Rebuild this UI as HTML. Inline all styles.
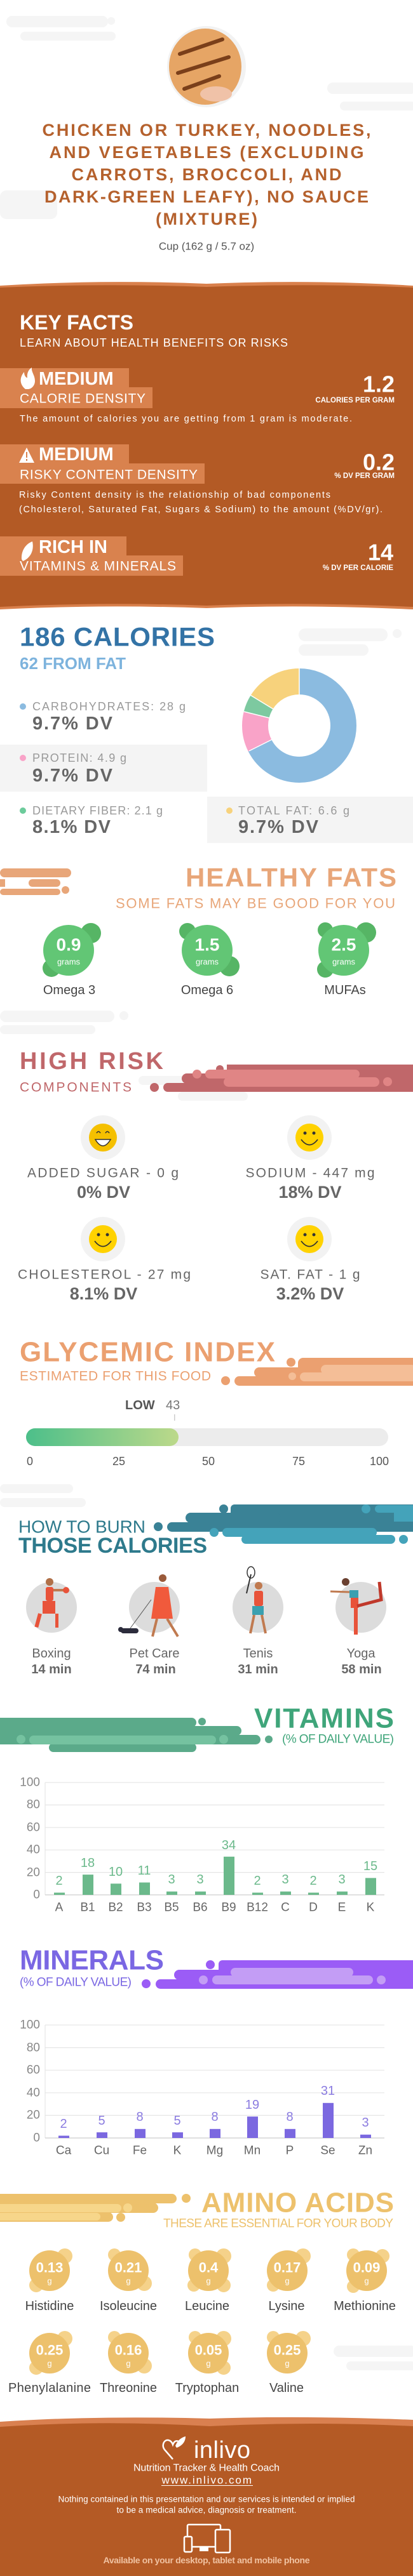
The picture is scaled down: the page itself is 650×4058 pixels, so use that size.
<!DOCTYPE html>
<html><head><meta charset="utf-8"><style>
html,body{margin:0;padding:0;background:#fff}
svg{display:block}
text{font-family:"Liberation Sans",sans-serif}
</style></head><body>
<svg width="650" height="4058" viewBox="0 0 650 4058" xmlns="http://www.w3.org/2000/svg">
<rect width="650" height="4058" fill="#fff"/>
<!-- light decor -->
<g fill="#f5f5f5">
<rect x="10" y="25" width="160" height="18" rx="9"/><rect x="32" y="50" width="150" height="14" rx="7"/><circle cx="175" cy="33" r="6"/>
<rect x="515" y="130" width="140" height="18" rx="9"/><rect x="535" y="160" width="120" height="14" rx="7"/>
<rect x="0" y="300" width="90" height="45" rx="10"/>
<rect x="470" y="990" width="140" height="20" rx="10"/><rect x="470" y="1015" width="110" height="18" rx="9"/><circle cx="625" cy="998" r="7"/>
<rect x="0" y="1592" width="180" height="18" rx="9"/><rect x="0" y="1615" width="150" height="14" rx="7"/><circle cx="195" cy="1600" r="7"/>
<rect x="218" y="1695" width="150" height="14" rx="7"/><rect x="280" y="1720" width="110" height="14" rx="7"/>
<rect x="0" y="2338" width="115" height="14" rx="7"/><rect x="0" y="2360" width="135" height="14" rx="7"/>
<rect x="525" y="3695" width="130" height="18" rx="9"/><rect x="545" y="3720" width="110" height="14" rx="7"/>
</g>

<!-- food image -->
<ellipse cx="325" cy="105" rx="62" ry="64" fill="#f2f2f2"/>
<ellipse cx="323" cy="105" rx="57" ry="60" fill="#e6a565"/>
<path d="M283 85 L350 62 M280 115 L360 90 M290 140 L345 120" stroke="#7a3f1a" stroke-width="6" stroke-linecap="round"/>
<ellipse cx="340" cy="148" rx="25" ry="12" fill="#f0c2a8"/>

<!-- title -->
<g fill="#B5612D" font-weight="bold" font-size="27" text-anchor="middle">
<text x="325" y="205" dominant-baseline="central" textLength="517">CHICKEN OR TURKEY, NOODLES,</text>
<text x="325" y="240" dominant-baseline="central" textLength="495">AND VEGETABLES (EXCLUDING</text>
<text x="325" y="275" dominant-baseline="central" textLength="425">CARROTS, BROCCOLI, AND</text>
<text x="325" y="310" dominant-baseline="central" textLength="510">DARK-GREEN LEAFY), NO SAUCE</text>
<text x="325" y="345" dominant-baseline="central" textLength="160">(MIXTURE)</text>
</g>
<text x="325" y="388" dominant-baseline="central" text-anchor="middle" font-size="17" fill="#555">Cup (162 g / 5.7 oz)</text>

<!-- key facts band -->
<path d="M0 450 Q160 440 325 447 Q490 440 650 450 L650 960 Q480 952 325 958 Q160 952 0 960 Z" fill="#D9804C"/>
<path d="M0 453 Q160 446 325 452 Q490 446 650 453 L650 956 Q480 948 325 954 Q160 948 0 956 Z" fill="#B35A25"/>
<text x="31" y="508" dominant-baseline="central" font-size="32" font-weight="bold" fill="#fff">KEY FACTS</text>
<text x="31" y="540" dominant-baseline="central" font-size="18" fill="#fff" textLength="422">LEARN ABOUT HEALTH BENEFITS OR RISKS</text>

<g fill="#D9824E">
<rect x="0" y="580" width="203" height="32"/><rect x="0" y="610" width="240" height="33"/>
<rect x="0" y="700" width="203" height="32"/><rect x="0" y="730" width="322" height="32"/>
<rect x="0" y="845" width="199" height="32"/><rect x="0" y="875" width="288" height="32"/>
</g>
<g fill="#fff">
<path d="M40 613 C30 605 31 594 38 586 C38 592 41 595 43 595 C42 588 45 582 50 579 C49 586 55 591 55 600 C55 608 49 613 44 613 Z"/>
<path d="M30 729 L42 705 L54 729 Z"/><rect x="41" y="712" width="2" height="9" fill="#D9824E"/><rect x="41" y="723" width="2" height="3" fill="#D9824E"/>
<path d="M34 881 C33 866 42 856 51 853 C54 867 48 879 36 884 Z"/>
</g>
<g fill="#fff" font-weight="bold">
<text x="61" y="597" dominant-baseline="central" font-size="29">MEDIUM</text>
<text x="61" y="716" dominant-baseline="central" font-size="29">MEDIUM</text>
<text x="61" y="862" dominant-baseline="central" font-size="29">RICH  IN</text>
</g>
<g fill="#fff" font-size="21">
<text x="31" y="628" dominant-baseline="central" textLength="198">CALORIE DENSITY</text>
<text x="31" y="748" dominant-baseline="central" textLength="280">RISKY CONTENT DENSITY</text>
<text x="31" y="892" dominant-baseline="central" textLength="246">VITAMINS &amp; MINERALS</text>
</g>
<g fill="#fff" font-weight="bold" text-anchor="end">
<text x="621" y="605" dominant-baseline="central" font-size="36">1.2</text>
<text x="621" y="631" dominant-baseline="central" font-size="11.5">CALORIES PER GRAM</text>
<text x="621" y="728" dominant-baseline="central" font-size="36">0.2</text>
<text x="621" y="750" dominant-baseline="central" font-size="11.5">% DV PER GRAM</text>
<text x="619" y="870" dominant-baseline="central" font-size="36">14</text>
<text x="619" y="895" dominant-baseline="central" font-size="11.5">% DV PER CALORIE</text>
</g>
<g fill="#fff" font-size="14.5">
<text x="31" y="660" dominant-baseline="central" textLength="523">The amount of calories you are getting from 1 gram is moderate.</text>
<text x="30" y="780" dominant-baseline="central" textLength="490">Risky Content density is the relationship of bad components</text>
<text x="30" y="803" dominant-baseline="central" textLength="572">(Cholesterol, Saturated Fat, Sugars &amp; Sodium) to the amount (%DV/gr).</text>
</g>

<!-- calories -->
<text x="31" y="1003" dominant-baseline="central" font-size="42" font-weight="bold" fill="#3373A6" textLength="307">186 CALORIES</text>
<text x="31" y="1045" dominant-baseline="central" font-size="26" font-weight="bold" fill="#7DB3DD" textLength="167">62 FROM FAT</text>
<rect x="0" y="1173" width="326" height="74" fill="#f4f4f4"/>
<rect x="326" y="1255" width="324" height="73" fill="#f4f4f4"/>
<g transform="rotate(-90 471 1143)" fill="none" stroke-width="41">
<circle cx="471" cy="1143" r="69.5" stroke="#8BBBE0" stroke-dasharray="294.8 436.7"/>
<circle cx="471" cy="1143" r="69.5" stroke="#F9A3C8" stroke-dasharray="49.7 436.7" stroke-dashoffset="-294.8"/>
<circle cx="471" cy="1143" r="69.5" stroke="#7DC9A0" stroke-dasharray="21.8 436.7" stroke-dashoffset="-344.5"/>
<circle cx="471" cy="1143" r="69.5" stroke="#F7D27C" stroke-dasharray="70.4 436.7" stroke-dashoffset="-366.3"/>
</g>
<g stroke="#fff" stroke-width="1.5">
<line x1="471" y1="1053" x2="471" y2="1094"/><line x1="392" y1="1183" x2="428" y2="1165"/><line x1="384" y1="1121" x2="424" y2="1131"/><line x1="394" y1="1095" x2="430" y2="1117"/>
</g>
<circle cx="36" cy="1113" r="5" fill="#8BBBE0"/><circle cx="36" cy="1194" r="5" fill="#F9A3C8"/><circle cx="36" cy="1277" r="5" fill="#6CCB9B"/><circle cx="361" cy="1277" r="5" fill="#F7D27C"/>
<g fill="#999" font-size="18">
<text x="51" y="1113" dominant-baseline="central" textLength="241">CARBOHYDRATES: 28 g</text>
<text x="51" y="1194" dominant-baseline="central" textLength="148">PROTEIN: 4.9 g</text>
<text x="51" y="1277" dominant-baseline="central" textLength="205">DIETARY FIBER: 2.1 g</text>
<text x="375" y="1277" dominant-baseline="central" textLength="175">TOTAL FAT: 6.6 g</text>
</g>
<g fill="#666" font-size="29" font-weight="bold">
<text x="51" y="1140" dominant-baseline="central" textLength="126">9.7% DV</text>
<text x="51" y="1222" dominant-baseline="central" textLength="126">9.7% DV</text>
<text x="51" y="1303" dominant-baseline="central" textLength="123">8.1% DV</text>
<text x="375" y="1303" dominant-baseline="central" textLength="126">9.7% DV</text>
</g>

<!-- healthy fats -->
<g fill="#E8A679">
<rect x="0" y="1368" width="112" height="14" rx="7"/><rect x="45" y="1385" width="50" height="12" rx="6"/><rect x="0" y="1385" width="8" height="12"/><circle cx="103" cy="1402" r="6"/><rect x="0" y="1400" width="95" height="10" rx="5"/>
</g>
<text x="624" y="1382" dominant-baseline="central" text-anchor="end" font-size="42" font-weight="bold" fill="#E8A679" textLength="332">HEALTHY FATS</text>
<text x="622" y="1423" dominant-baseline="central" text-anchor="end" font-size="22" fill="#E8A679" textLength="440">SOME FATS MAY BE GOOD FOR YOU</text>
<g fill="#56B565">
<circle cx="143" cy="1470" r="16"/><circle cx="81" cy="1525" r="14"/>
<circle cx="295" cy="1467" r="13"/><circle cx="361" cy="1522" r="16"/>
<circle cx="576" cy="1469" r="16"/><circle cx="512" cy="1465" r="12"/><circle cx="512" cy="1527" r="13"/>
</g>
<g fill="#62C675"><circle cx="108" cy="1497" r="40"/><circle cx="326" cy="1497" r="40"/><circle cx="541" cy="1497" r="40"/></g>
<g fill="#fff" text-anchor="middle">
<text x="108" y="1488" dominant-baseline="central" font-size="28" font-weight="bold">0.9</text>
<text x="326" y="1488" dominant-baseline="central" font-size="28" font-weight="bold">1.5</text>
<text x="541" y="1488" dominant-baseline="central" font-size="28" font-weight="bold">2.5</text>
<text x="108" y="1515" dominant-baseline="central" font-size="13">grams</text>
<text x="326" y="1515" dominant-baseline="central" font-size="13">grams</text>
<text x="541" y="1515" dominant-baseline="central" font-size="13">grams</text>
</g>
<g fill="#444" font-size="20" text-anchor="middle">
<text x="109" y="1560" dominant-baseline="central">Omega 3</text>
<text x="326" y="1560" dominant-baseline="central">Omega 6</text>
<text x="543" y="1560" dominant-baseline="central">MUFAs</text>
</g>

<!-- high risk -->
<text x="31" y="1672" dominant-baseline="central" font-size="38" font-weight="bold" fill="#C0676A" textLength="226">HIGH RISK</text>
<text x="31" y="1713" dominant-baseline="central" font-size="21" fill="#C0676A" textLength="176">COMPONENTS</text>
<g fill="#C0676A">
<rect x="357" y="1677" width="300" height="43"/><rect x="286" y="1691" width="100" height="16" rx="8"/><rect x="257" y="1706" width="400" height="14" rx="7"/>
<circle cx="243" cy="1713" r="7"/><circle cx="346" cy="1684" r="6"/>
</g>
<g fill="#E08585">
<rect x="323" y="1685" width="243" height="14" rx="7"/><rect x="352" y="1697" width="245" height="15" rx="7.5"/><circle cx="310" cy="1692" r="7"/><circle cx="610" cy="1704" r="7"/>
</g>
<g>
<ellipse cx="162" cy="1792" rx="35" ry="35" fill="#f2f2f2"/><circle cx="162" cy="1792" r="22" fill="#F5C000"/>
<path d="M150 1795 Q162 1815 174 1795 Z" fill="#fff" stroke="#333" stroke-width="1.5"/><path d="M152 1785 q3 -5 6 0 M166 1785 q3 -5 6 0" stroke="#333" stroke-width="1.5" fill="none"/>
<ellipse cx="487" cy="1792" rx="35" ry="35" fill="#f2f2f2"/><circle cx="487" cy="1792" r="22" fill="#FFD200"/>
<circle cx="480" cy="1785" r="2.5" fill="#333"/><circle cx="494" cy="1785" r="2.5" fill="#333"/><path d="M474 1795 Q487 1812 500 1795" stroke="#333" stroke-width="1.8" fill="none"/>
<ellipse cx="162" cy="1952" rx="35" ry="35" fill="#f2f2f2"/><circle cx="162" cy="1952" r="22" fill="#FFD200"/>
<circle cx="155" cy="1945" r="2.5" fill="#333"/><circle cx="169" cy="1945" r="2.5" fill="#333"/><path d="M149 1955 Q162 1972 175 1955" stroke="#333" stroke-width="1.8" fill="none"/>
<ellipse cx="487" cy="1952" rx="35" ry="35" fill="#f2f2f2"/><circle cx="487" cy="1952" r="22" fill="#FFD200"/>
<circle cx="480" cy="1945" r="2.5" fill="#333"/><circle cx="494" cy="1945" r="2.5" fill="#333"/><path d="M474 1955 Q487 1972 500 1955" stroke="#333" stroke-width="1.8" fill="none"/>
</g>
<g fill="#666" font-size="21" text-anchor="middle">
<text x="162" y="1848" dominant-baseline="central" textLength="238">ADDED SUGAR - 0 g</text>
<text x="488" y="1848" dominant-baseline="central" textLength="203">SODIUM - 447 mg</text>
<text x="164" y="2008" dominant-baseline="central" textLength="272">CHOLESTEROL - 27 mg</text>
<text x="488" y="2008" dominant-baseline="central" textLength="157">SAT. FAT - 1 g</text>
</g>
<g fill="#666" font-size="27" font-weight="bold" text-anchor="middle">
<text x="163" y="1878" dominant-baseline="central">0% DV</text>
<text x="488" y="1878" dominant-baseline="central">18% DV</text>
<text x="163" y="2038" dominant-baseline="central">8.1% DV</text>
<text x="488" y="2038" dominant-baseline="central">3.2% DV</text>
</g>

<!-- glycemic -->
<text x="31" y="2130" dominant-baseline="central" font-size="44" font-weight="bold" fill="#EBA070" textLength="402">GLYCEMIC INDEX</text>
<text x="31" y="2168" dominant-baseline="central" font-size="21" fill="#EBA070" textLength="301">ESTIMATED FOR THIS FOOD</text>
<g fill="#EBA070">
<rect x="469" y="2139" width="190" height="44" rx="8"/><rect x="400" y="2154" width="120" height="16" rx="8"/><rect x="369" y="2168" width="290" height="15" rx="7.5"/>
<circle cx="355" cy="2175" r="7"/><circle cx="458" cy="2146" r="7"/><circle cx="458" cy="2160" r="6"/>
</g>
<g fill="#F4BE97"><rect x="505" y="2150" width="150" height="15" rx="7.5"/><rect x="472" y="2162" width="185" height="14" rx="7"/><circle cx="460" cy="2168" r="6"/></g>
<text x="197" y="2214" dominant-baseline="central" font-size="20" font-weight="bold" fill="#555">LOW</text>
<text x="261" y="2214" dominant-baseline="central" font-size="20" fill="#777">43</text>
<rect x="274" y="2228" width="1.5" height="10" fill="#ccc"/>
<defs><linearGradient id="gg" x1="0" x2="1"><stop offset="0" stop-color="#4CBF8A"/><stop offset="1" stop-color="#BCD98A"/></linearGradient></defs>
<rect x="41" y="2250" width="570" height="28" rx="14" fill="#ececec"/>
<rect x="41" y="2250" width="240" height="28" rx="14" fill="url(#gg)"/>
<g fill="#555" font-size="18" text-anchor="middle">
<text x="47" y="2302" dominant-baseline="central">0</text><text x="187" y="2302" dominant-baseline="central">25</text><text x="328" y="2302" dominant-baseline="central">50</text><text x="470" y="2302" dominant-baseline="central">75</text><text x="597" y="2302" dominant-baseline="central">100</text>
</g>

<!-- burn -->
<text x="29" y="2405" dominant-baseline="central" font-size="28" fill="#2E7A8C" textLength="200">HOW TO BURN</text>
<text x="29" y="2435" dominant-baseline="central" font-size="34" font-weight="bold" fill="#2E7A8C" textLength="297">THOSE CALORIES</text>
<g fill="#3A8296">
<rect x="363" y="2370" width="300" height="30" rx="6"/><rect x="292" y="2383" width="150" height="16" rx="8"/><rect x="263" y="2398" width="400" height="15" rx="7.5"/>
<circle cx="249" cy="2405" r="7"/><circle cx="352" cy="2377" r="7"/>
</g>
<g fill="#44A3BA">
<rect x="350" y="2407" width="243" height="14" rx="7"/><rect x="380" y="2418" width="242" height="14" rx="7"/><circle cx="635" cy="2425" r="7"/><circle cx="337" cy="2414" r="7"/>
<rect x="590" y="2371" width="70" height="12" rx="6"/><rect x="620" y="2383" width="40" height="14" rx="0"/><circle cx="576" cy="2377" r="7"/>
</g>
<g fill="#dcdcdc"><circle cx="81" cy="2532" r="40"/><circle cx="243" cy="2532" r="40"/><circle cx="406" cy="2532" r="40"/><circle cx="568" cy="2532" r="40"/></g>
<!-- figures -->
<g>
<circle cx="78" cy="2492" r="6" fill="#b07048"/><rect x="72" y="2500" width="12" height="22" rx="3" fill="#e8533a"/><rect x="84" y="2503" width="16" height="4" fill="#c07a50"/><circle cx="104" cy="2505" r="5" fill="#e8533a"/>
<rect x="67" y="2522" width="20" height="20" fill="#e8533a"/><rect x="60" y="2542" width="6" height="22" fill="#e8533a" transform="rotate(15 63 2542)"/><rect x="87" y="2542" width="5" height="22" fill="#e8533a"/>
<circle cx="256" cy="2486" r="6" fill="#9a5a3a"/><path d="M245 2500 L265 2500 L272 2550 L238 2550 Z" fill="#f05a3c"/><path d="M247 2550 L240 2578 M263 2550 L280 2578" stroke="#c07a50" stroke-width="4"/>
<line x1="238" y1="2520" x2="205" y2="2565" stroke="#555" stroke-width="1"/><rect x="190" y="2565" width="28" height="8" rx="4" fill="#2c2c3c"/><circle cx="190" cy="2567" r="4" fill="#2c2c3c"/>
<line x1="388" y1="2510" x2="395" y2="2480" stroke="#333" stroke-width="2"/><ellipse cx="395" cy="2477" rx="6" ry="9" fill="none" stroke="#333" stroke-width="1.5"/>
<circle cx="407" cy="2498" r="6" fill="#c07a50"/><rect x="400" y="2506" width="14" height="24" rx="3" fill="#e8533a"/><rect x="397" y="2530" width="18" height="14" fill="#3aa0b0"/><path d="M400 2544 L394 2573 M412 2544 L418 2573" stroke="#c07a50" stroke-width="4"/>
<circle cx="544" cy="2492" r="6" fill="#6a4030"/><rect x="550" y="2505" width="14" height="12" fill="#3aa0b0"/><rect x="552" y="2517" width="12" height="16" fill="#e8533a"/><path d="M560 2533 L560 2575" stroke="#e8533a" stroke-width="6"/><path d="M562 2530 L600 2520 L597 2492" stroke="#c0392b" stroke-width="5" fill="none"/><path d="M550 2508 L520 2507" stroke="#c07a50" stroke-width="3"/>
</g>
<g fill="#666" font-size="20" text-anchor="middle">
<text x="81" y="2605" dominant-baseline="central">Boxing</text><text x="243" y="2605" dominant-baseline="central">Pet Care</text><text x="406" y="2605" dominant-baseline="central">Tenis</text><text x="568" y="2605" dominant-baseline="central">Yoga</text>
</g>
<g fill="#666" font-size="20" font-weight="bold" text-anchor="middle">
<text x="81" y="2630" dominant-baseline="central">14 min</text><text x="245" y="2630" dominant-baseline="central">74 min</text><text x="406" y="2630" dominant-baseline="central">31 min</text><text x="569" y="2630" dominant-baseline="central">58 min</text>
</g>

<!-- vitamins -->
<g fill="#5BAA8A">
<rect x="-10" y="2706" width="319" height="15" rx="7.5"/><rect x="-10" y="2719" width="390" height="15" rx="7.5"/><rect x="-10" y="2733" width="420" height="15" rx="7.5"/><rect x="77" y="2746" width="232" height="14" rx="7"/>
<circle cx="318" cy="2712" r="6"/><circle cx="423" cy="2740" r="6"/>
</g>
<g fill="#75C2A0"><rect x="46" y="2734" width="294" height="14" rx="7"/><circle cx="33" cy="2740" r="7"/><circle cx="352" cy="2740" r="7"/></g>
<text x="620" y="2707" dominant-baseline="central" text-anchor="end" font-size="44" font-weight="bold" fill="#3FA57A" textLength="220">VITAMINS</text>
<text x="620" y="2740" dominant-baseline="central" text-anchor="end" font-size="19" fill="#3FA57A" textLength="176">(% OF DAILY VALUE)</text>
<g stroke="#e6e6e6" stroke-width="1.2">
<line x1="71" y1="2808" x2="605" y2="2808"/><line x1="71" y1="2843.4" x2="605" y2="2843.4"/><line x1="71" y1="2878.8" x2="605" y2="2878.8"/><line x1="71" y1="2914.2" x2="605" y2="2914.2"/><line x1="71" y1="2949.6" x2="605" y2="2949.6"/>
<line x1="71" y1="2808" x2="71" y2="2985"/>
</g>
<line x1="71" y1="2985" x2="605" y2="2985" stroke="#d5d5d5" stroke-width="1.5"/>
<g fill="#888" font-size="19" text-anchor="end">
<text x="63" y="2808" dominant-baseline="central">100</text><text x="63" y="2843" dominant-baseline="central">80</text><text x="63" y="2879" dominant-baseline="central">60</text><text x="63" y="2914" dominant-baseline="central">40</text><text x="63" y="2950" dominant-baseline="central">20</text><text x="63" y="2985" dominant-baseline="central">0</text>
</g>
<g fill="#6BB98B">
<rect x="85" y="2981.5" width="17" height="3.5"/><rect x="130" y="2953.1" width="17" height="31.9"/><rect x="174" y="2967.3" width="17" height="17.7"/><rect x="219" y="2965.5" width="17" height="19.5"/><rect x="262" y="2979.7" width="17" height="5.3"/><rect x="307" y="2979.7" width="17" height="5.3"/><rect x="352" y="2924.8" width="17" height="60.2"/><rect x="397" y="2981.5" width="17" height="3.5"/><rect x="441" y="2979.7" width="17" height="5.3"/><rect x="485" y="2981.5" width="17" height="3.5"/><rect x="530" y="2979.7" width="17" height="5.3"/><rect x="575" y="2958.4" width="17" height="26.6"/>
</g>
<g fill="#6BB98B" font-size="20" text-anchor="middle">
<text x="93" y="2963" dominant-baseline="central">2</text><text x="138" y="2935" dominant-baseline="central">18</text><text x="182" y="2949" dominant-baseline="central">10</text><text x="227" y="2947" dominant-baseline="central">11</text><text x="270" y="2961" dominant-baseline="central">3</text><text x="315" y="2961" dominant-baseline="central">3</text><text x="360" y="2907" dominant-baseline="central">34</text><text x="405" y="2963" dominant-baseline="central">2</text><text x="449" y="2961" dominant-baseline="central">3</text><text x="493" y="2963" dominant-baseline="central">2</text><text x="538" y="2961" dominant-baseline="central">3</text><text x="583" y="2940" dominant-baseline="central">15</text>
</g>
<g fill="#666" font-size="19" text-anchor="middle">
<text x="93" y="3005" dominant-baseline="central">A</text><text x="138" y="3005" dominant-baseline="central">B1</text><text x="182" y="3005" dominant-baseline="central">B2</text><text x="227" y="3005" dominant-baseline="central">B3</text><text x="270" y="3005" dominant-baseline="central">B5</text><text x="315" y="3005" dominant-baseline="central">B6</text><text x="360" y="3005" dominant-baseline="central">B9</text><text x="405" y="3005" dominant-baseline="central">B12</text><text x="449" y="3005" dominant-baseline="central">C</text><text x="493" y="3005" dominant-baseline="central">D</text><text x="538" y="3005" dominant-baseline="central">E</text><text x="583" y="3005" dominant-baseline="central">K</text>
</g>

<!-- minerals -->
<text x="31" y="3088" dominant-baseline="central" font-size="44" font-weight="bold" fill="#7A67E3" textLength="227">MINERALS</text>
<text x="31" y="3123" dominant-baseline="central" font-size="19" fill="#7A67E3" textLength="176">(% OF DAILY VALUE)</text>
<g fill="#9B5CF6">
<rect x="344" y="3088" width="320" height="45" rx="6"/><rect x="274" y="3103" width="150" height="16" rx="8"/><rect x="245" y="3118" width="420" height="15" rx="7.5"/>
<circle cx="230" cy="3125" r="7"/><circle cx="331" cy="3095" r="7"/>
</g>
<g fill="#C39DF5"><rect x="363" y="3100" width="193" height="14" rx="7"/><rect x="334" y="3112" width="253" height="14" rx="7"/><circle cx="320" cy="3119" r="7"/><circle cx="600" cy="3119" r="7"/></g>
<g stroke="#e6e6e6" stroke-width="1.2">
<line x1="71" y1="3190" x2="605" y2="3190"/><line x1="71" y1="3225.6" x2="605" y2="3225.6"/><line x1="71" y1="3261.2" x2="605" y2="3261.2"/><line x1="71" y1="3296.8" x2="605" y2="3296.8"/><line x1="71" y1="3332.4" x2="605" y2="3332.4"/>
<line x1="71" y1="3190" x2="71" y2="3368"/>
</g>
<line x1="71" y1="3368" x2="605" y2="3368" stroke="#d5d5d5" stroke-width="1.5"/>
<g fill="#888" font-size="19" text-anchor="end">
<text x="63" y="3190" dominant-baseline="central">100</text><text x="63" y="3226" dominant-baseline="central">80</text><text x="63" y="3261" dominant-baseline="central">60</text><text x="63" y="3297" dominant-baseline="central">40</text><text x="63" y="3332" dominant-baseline="central">20</text><text x="63" y="3368" dominant-baseline="central">0</text>
</g>
<g fill="#7B68E0">
<rect x="92" y="3364.4" width="17" height="3.6"/><rect x="152" y="3359.1" width="17" height="8.9"/><rect x="212" y="3353.8" width="17" height="14.2"/><rect x="271" y="3359.1" width="17" height="8.9"/><rect x="330" y="3353.8" width="17" height="14.2"/><rect x="389" y="3334.2" width="17" height="33.8"/><rect x="448" y="3353.8" width="17" height="14.2"/><rect x="508" y="3312.8" width="17" height="55.2"/><rect x="567" y="3362.7" width="17" height="5.3"/>
</g>
<g fill="#8A7BE0" font-size="20" text-anchor="middle">
<text x="100" y="3346" dominant-baseline="central">2</text><text x="160" y="3341" dominant-baseline="central">5</text><text x="220" y="3335" dominant-baseline="central">8</text><text x="279" y="3341" dominant-baseline="central">5</text><text x="338" y="3335" dominant-baseline="central">8</text><text x="397" y="3316" dominant-baseline="central">19</text><text x="456" y="3335" dominant-baseline="central">8</text><text x="516" y="3294" dominant-baseline="central">31</text><text x="575" y="3344" dominant-baseline="central">3</text>
</g>
<g fill="#666" font-size="19" text-anchor="middle">
<text x="100" y="3388" dominant-baseline="central">Ca</text><text x="160" y="3388" dominant-baseline="central">Cu</text><text x="220" y="3388" dominant-baseline="central">Fe</text><text x="279" y="3388" dominant-baseline="central">K</text><text x="338" y="3388" dominant-baseline="central">Mg</text><text x="397" y="3388" dominant-baseline="central">Mn</text><text x="456" y="3388" dominant-baseline="central">P</text><text x="516" y="3388" dominant-baseline="central">Se</text><text x="575" y="3388" dominant-baseline="central">Zn</text>
</g>

<!-- amino acids -->
<g fill="#EDC16C">
<rect x="-10" y="3456" width="288" height="15" rx="7.5"/><rect x="-10" y="3470" width="259" height="16" rx="8"/><rect x="-10" y="3485" width="188" height="15" rx="7.5"/>
<circle cx="293" cy="3463" r="7"/><circle cx="190" cy="3493" r="7"/>
</g>
<g fill="#F7D68A"><rect x="-10" y="3472" width="201" height="13" rx="6.5"/><rect x="-10" y="3486" width="168" height="12" rx="6"/><circle cx="201" cy="3478" r="7"/></g>
<text x="620" y="3470" dominant-baseline="central" text-anchor="end" font-size="44" font-weight="bold" fill="#EDC16C" textLength="303">AMINO ACIDS</text>
<text x="619" y="3503" dominant-baseline="central" text-anchor="end" font-size="19" fill="#EDC16C" textLength="362">THESE ARE ESSENTIAL FOR YOUR BODY</text>
<g fill="#F5D28A">
<circle cx="102" cy="3554" r="12"/><circle cx="57" cy="3600" r="11"/>
<circle cx="180" cy="3552" r="10"/><circle cx="227" cy="3597" r="12"/>
<circle cx="307" cy="3552" r="10"/><circle cx="352" cy="3554" r="12"/><circle cx="305" cy="3600" r="10"/><circle cx="352" cy="3600" r="11"/>
<circle cx="477" cy="3554" r="12"/><circle cx="430" cy="3600" r="10"/>
<circle cx="556" cy="3552" r="10"/><circle cx="602" cy="3554" r="11"/><circle cx="556" cy="3602" r="10"/>
<circle cx="102" cy="3684" r="12"/><circle cx="57" cy="3730" r="11"/>
<circle cx="180" cy="3682" r="10"/><circle cx="227" cy="3727" r="12"/>
<circle cx="307" cy="3682" r="10"/><circle cx="352" cy="3684" r="12"/><circle cx="352" cy="3730" r="11"/>
<circle cx="430" cy="3682" r="10"/><circle cx="477" cy="3684" r="12"/>
</g>
<g fill="#EDC16C">
<circle cx="78" cy="3577" r="32"/><circle cx="202" cy="3577" r="32"/><circle cx="328" cy="3577" r="32"/><circle cx="452" cy="3577" r="32"/><circle cx="577" cy="3577" r="32"/>
<circle cx="78" cy="3707" r="32"/><circle cx="202" cy="3707" r="32"/><circle cx="328" cy="3707" r="32"/><circle cx="452" cy="3707" r="32"/>
</g>
<g fill="#fff" font-size="22" font-weight="bold" text-anchor="middle">
<text x="78" y="3572" dominant-baseline="central">0.13</text><text x="202" y="3572" dominant-baseline="central">0.21</text><text x="328" y="3572" dominant-baseline="central">0.4</text><text x="452" y="3572" dominant-baseline="central">0.17</text><text x="577" y="3572" dominant-baseline="central">0.09</text>
<text x="78" y="3702" dominant-baseline="central">0.25</text><text x="202" y="3702" dominant-baseline="central">0.16</text><text x="328" y="3702" dominant-baseline="central">0.05</text><text x="452" y="3702" dominant-baseline="central">0.25</text>
</g>
<g fill="#fff" font-size="13" text-anchor="middle">
<text x="78" y="3593" dominant-baseline="central">g</text><text x="202" y="3593" dominant-baseline="central">g</text><text x="328" y="3593" dominant-baseline="central">g</text><text x="452" y="3593" dominant-baseline="central">g</text><text x="577" y="3593" dominant-baseline="central">g</text>
<text x="78" y="3723" dominant-baseline="central">g</text><text x="202" y="3723" dominant-baseline="central">g</text><text x="328" y="3723" dominant-baseline="central">g</text><text x="452" y="3723" dominant-baseline="central">g</text>
</g>
<g fill="#444" font-size="20" text-anchor="middle">
<text x="78" y="3633" dominant-baseline="central">Histidine</text><text x="202" y="3633" dominant-baseline="central">Isoleucine</text><text x="326" y="3633" dominant-baseline="central">Leucine</text><text x="451" y="3633" dominant-baseline="central">Lysine</text><text x="574" y="3633" dominant-baseline="central">Methionine</text>
<text x="78" y="3762" dominant-baseline="central" textLength="130">Phenylalanine</text><text x="202" y="3762" dominant-baseline="central">Threonine</text><text x="326" y="3762" dominant-baseline="central">Tryptophan</text><text x="451" y="3762" dominant-baseline="central">Valine</text>
</g>

<!-- footer -->
<path d="M0 3815 Q150 3805 330 3810 Q480 3805 650 3812 L650 4058 L0 4058 Z" fill="#D98050"/>
<path d="M0 3823 Q160 3812 330 3822 Q490 3814 650 3822 L650 4058 L0 4058 Z" fill="#B45A25"/>
<path d="M272 3874 L259 3859 C254 3852 258 3843 265 3844 C269 3845 271 3848 272 3851 C274 3846 277 3844 281 3846" fill="none" stroke="#fff" stroke-width="2.5"/>
<path d="M276 3853 C280 3843 286 3840 292 3838 C292 3847 286 3853 278 3856 Z" fill="#fff"/>
<text x="305" y="3860" dominant-baseline="central" font-size="38" fill="#fff" textLength="89">inlivo</text>
<g fill="#fff" text-anchor="middle">
<text x="325" y="3888" dominant-baseline="central" font-size="16" textLength="230">Nutrition Tracker &amp; Health Coach</text>
<text x="326" y="3907" dominant-baseline="central" font-size="17" letter-spacing="1.5" textLength="143">www.inlivo.com</text>
<text x="325" y="3937" dominant-baseline="central" font-size="13.5" textLength="467">Nothing contained in this presentation and our services is intended or implied</text>
<text x="325" y="3954" dominant-baseline="central" font-size="13.5" textLength="283">to be a medical advice, diagnosis or treatment.</text>
</g>
<rect x="254" y="3915" width="144" height="1" fill="#fff"/>
<g fill="none" stroke="#fff" stroke-width="2.5">
<rect x="295" y="3977" width="52" height="35" rx="2"/><rect x="290" y="3996" width="12" height="24" rx="2" fill="#B45A25"/><rect x="339" y="3985" width="23" height="36" rx="2" fill="#B45A25"/>
</g>
<rect x="314" y="4012" width="14" height="7" fill="#fff"/>
<text x="325" y="4033" dominant-baseline="central" text-anchor="middle" font-size="14" font-weight="bold" fill="#F0C2A2" textLength="325">Available on your desktop, tablet and mobile phone</text>
</svg>
</body></html>
